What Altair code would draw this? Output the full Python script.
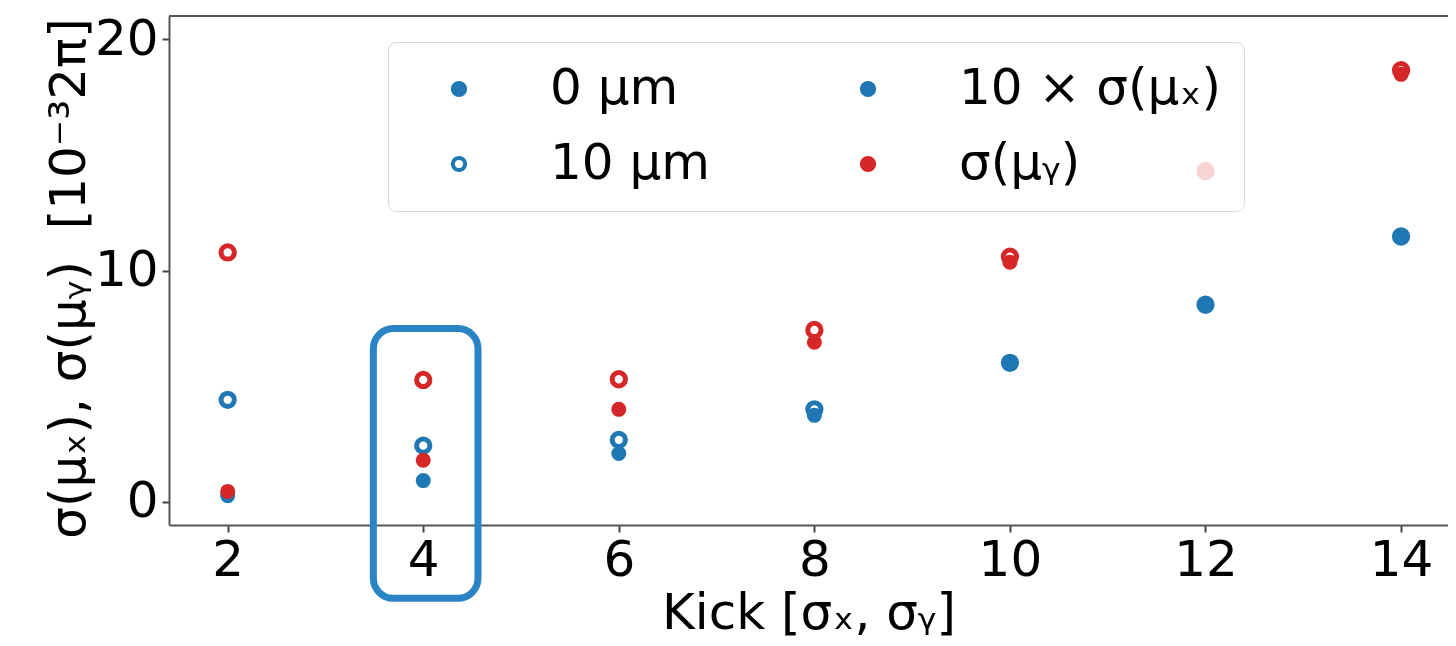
import altair as alt
import pandas as pd

# ---- data ----
kicks = [2, 4, 6, 8, 10, 12, 14]
sx_0um = [0.27, 0.92, 2.09, 3.74, 5.97, 8.50, 11.45]     # 10 x sigma(mu_x), 0 um
sx_10um = [4.41, 2.43, 2.68, 4.00, 6.01, 8.52, 11.47]    # 10 x sigma(mu_x), 10 um
sy_0um = [0.45, 1.80, 4.00, 6.90, 10.36, 14.25, 18.48]   # sigma(mu_y), 0 um
sy_10um = [10.78, 5.27, 5.30, 7.43, 10.60, 14.30, 18.66] # sigma(mu_y), 10 um

# legend entries (column-major order of a 2-column legend)
legend_labels = ["0 μm", "10 μm", "10 × σ(μₓ)", "σ(μᵧ)"]
hidden_label = "10 μm, σ(μᵧ)"
series_domain = legend_labels + [hidden_label]
fill_range = ["#1f77b4", "white", "#1f77b4", "#d62728", "white"]
stroke_range = ["#1f77b4", "#1f77b4", "#1f77b4", "#d62728", "#d62728"]

# annotation box around kick = 4 (data units)
box_kick = [3.49, 4.56]
box_value = [7.49, -4.17]

rows = []
draw = 0
for vals, offset, series in [
    (sx_10um, "10 μm", "10 μm"),
    (sy_10um, "10 μm", hidden_label),
    (sx_0um, "0 μm", "10 × σ(μₓ)"),
    (sy_0um, "0 μm", "σ(μᵧ)"),
]:
    for k, v in zip(kicks, vals):
        rows.append({"kick": k, "value": v, "offset": offset, "series": series, "draw": draw})
        draw += 1
df = pd.DataFrame(rows)

box_df = pd.DataFrame({"kick": [box_kick[0]], "kick_end": [box_kick[1]],
                       "value": [box_value[0]], "value_end": [box_value[1]]})

FONT = "DejaVu Sans"
FS = 50
W, H = 1279, 509

x_enc = alt.X("kick:Q",
              scale=alt.Scale(domain=[1.4, 14.48], nice=False, zero=False),
              axis=alt.Axis(values=kicks, title="Kick [σₓ, σᵧ]", titlePadding=3, labelPadding=3))
y_enc = alt.Y("value:Q",
              scale=alt.Scale(domain=[-1, 21], nice=False, zero=False),
              axis=alt.Axis(values=[0, 10, 20], title="σ(μₓ), σ(μᵧ)\u00a0\u00a0[10⁻³2π]",
                            titlePadding=0, labelPadding=4, titleY=262))

legend = alt.Legend(
    title=None,
    orient="none", legendX=219, legendY=26,
    columns=2, columnPadding=108, rowPadding=25,
    padding=22, symbolOffset=24, labelOffset=66,
    fillColor="rgba(255,255,255,0.8)", strokeColor="#d6d6d6", cornerRadius=8,
    values=legend_labels,
    zindex=1,
)

fill_enc = alt.Fill("series:N", scale=alt.Scale(domain=series_domain, range=fill_range), legend=legend)
stroke_enc = alt.Stroke("series:N", scale=alt.Scale(domain=series_domain, range=stroke_range), legend=legend)

base = alt.Chart(df).encode(x=x_enc, y=y_enc, fill=fill_enc, stroke=stroke_enc, order=alt.Order("draw:Q"))

open_layer = base.transform_filter(alt.datum.offset == "10 μm").mark_point(
    shape="circle", size=177, strokeWidth=5, opacity=1)
filled_layer = base.transform_filter(alt.datum.offset == "0 μm").mark_point(
    shape="circle", size=227, strokeWidth=0, opacity=1)

box = alt.Chart(box_df).mark_rect(
    fillOpacity=0, stroke="#2a84c6", strokeWidth=7, cornerRadius=20
).encode(x=x_enc, x2="kick_end:Q", y=y_enc, y2="value_end:Q")

top_spine = alt.Chart(box_df).mark_rule(color="#555", strokeWidth=2).encode(
    x=alt.value(0), x2=alt.value(W), y=alt.value(0))

chart = alt.layer(open_layer, filled_layer, box, top_spine).properties(
    width=W, height=H,
    autosize=alt.AutoSizeParams(type="none"),
    padding={"left": 161, "top": 8, "right": 0, "bottom": 113},
).configure_view(
    stroke="transparent"
).configure_axis(
    grid=False, labelFont=FONT, labelFontSize=FS, labelColor="black",
    titleFont=FONT, titleFontSize=FS, titleFontWeight="normal", titleColor="black",
    tickColor="#444", tickWidth=2, tickSize=7, domainColor="#555", domainWidth=2,
).configure_legend(
    labelFont=FONT, labelFontSize=FS, labelColor="black", labelLimit=800,
    symbolStrokeWidth=4, symbolSize=150, symbolType="circle",
)

chart.save("out.html", embed_options={"renderer": "svg", "actions": False})
